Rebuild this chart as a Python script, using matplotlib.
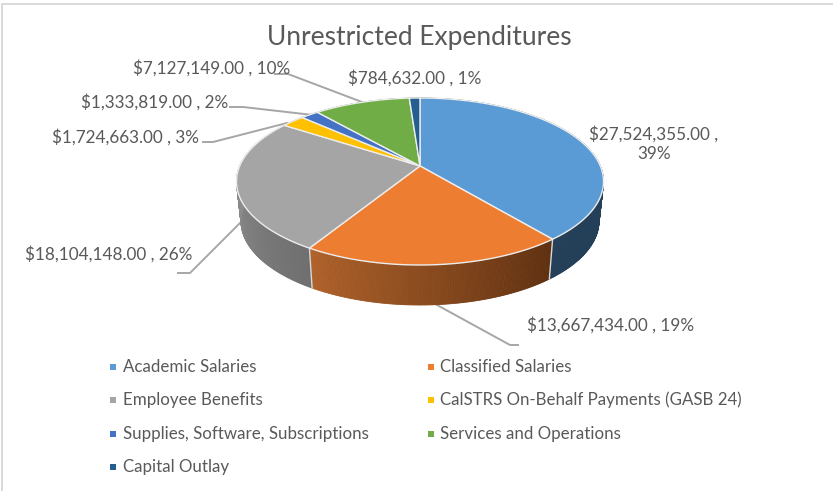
import numpy as np
import matplotlib
matplotlib.use('Agg')
from matplotlib import pyplot as plt

plt.rcParams['font.family'] = ['Lato', 'DejaVu Sans']

categories = ['Academic Salaries', 'Classified Salaries', 'Employee Benefits',
              'CalSTRS On-Behalf Payments (GASB 24)', 'Supplies, Software, Subscriptions',
              'Services and Operations', 'Capital Outlay']
values = [27524355, 13667434, 18104148, 1724663, 1333819, 7127149, 784632]
percents = [39, 19, 26, 3, 2, 10, 1]
colors = ['#5B9BD5', '#ED7D31', '#A5A5A5', '#FFC000', '#4472C4', '#70AD47', '#255E91']
# wall shade at the start and end of each slice (clockwise)
wall_start = ['#243F58', '#5E2F10', '#6E6E6E', '#7F6000', '#2A4478', '#43682B', '#163855']
wall_end = ['#243F58', '#B0622A', '#A2A2A2', '#7F6000', '#2A4478', '#43682B', '#163855']

text_color = '#595959'
line_color = '#A6A6A6'
persp = -0.186


def project(theta, cx, cy, rx, ry):
    # circle seen in perspective, so the centre of the pie sits above the ellipse centre
    u = np.sin(theta)
    v = -np.cos(theta)
    d = 1 + persp * v
    return cx + rx * u * np.sqrt(1 - persp * persp) / d, cy + ry * (v + persp) / d


def hex_mix(c1, c2, t):
    c1 = np.array(matplotlib.colors.to_rgb(c1))
    c2 = np.array(matplotlib.colors.to_rgb(c2))
    return tuple(c1 * (1 - t) + c2 * t)


top = (420, 181.5, 183.5, 83.5)
bottom = (420, 221, 179, 84)

fig = plt.figure(figsize=(8.33, 4.91), dpi=100)
ax = fig.add_axes([0, 0, 1, 1])
ax.set_xlim(0, 833)
ax.set_ylim(491, 0)
ax.axis('off')

# chart border
ax.plot([2, 2, 833], [491, 4, 4], color='#D9D9D9', lw=1.4, zorder=1)

# leader lines, behind the pie
leaders = [([437, 510, 518], [305, 345, 345]),
           ([240, 190, 178], [223, 273, 273]),
           ([203, 213, 287], [142, 142, 123]),
           ([230, 243, 313], [107, 107, 115]),
           ([275, 288, 362], [74, 74, 102])]
for lx, ly in leaders:
    ax.plot(lx, ly, color=line_color, lw=1.4, zorder=2)

edges = np.concatenate([[0], np.cumsum(values)]) / sum(values) * 2 * np.pi

# side walls
for i in range(len(values)):
    th = np.linspace(edges[i], edges[i + 1], int(np.degrees(edges[i + 1] - edges[i])) * 2 + 2)
    for j in range(len(th) - 1):
        x1, y1 = project(th[j:j + 2], *top)
        x2, y2 = project(th[j:j + 2], *bottom)
        c = hex_mix(wall_start[i], wall_end[i], j / (len(th) - 1))
        ax.fill(np.r_[x1, x2[::-1]], np.r_[y1, y2[::-1]], color=c, lw=0.6, zorder=3)
    # seam between slices on the wall
    x1, y1 = project(edges[i], *top)
    x2, y2 = project(edges[i], *bottom)
    if y1 > 200:
        ax.plot([x1, x2], [y1, y2], color='#D9D9D9', lw=1, zorder=4)

# top faces
apex = (top[0], top[1] + top[3] * persp)
for i in range(len(values)):
    th = np.linspace(edges[i], edges[i + 1], 200)
    x, y = project(th, *top)
    ax.fill(np.r_[apex[0], x], np.r_[apex[1], y], facecolor=colors[i],
            edgecolor='#EDEDED', lw=1, zorder=5)

ax.text(419.5, 37, 'Unrestricted Expenditures', ha='center', va='center',
        fontsize=19, color=text_color)

# data labels
label_pos = [(654, 144, 'center'), (527, 325, 'left'), (25, 254, 'left'), (52, 137, 'left'),
             (81, 102, 'left'), (133, 68, 'left'), (348, 78, 'left')]
for i, (lx, ly, ha) in enumerate(label_pos):
    s = '${:,.2f} , {}%'.format(values[i], percents[i])
    if i == 0:
        s = '${:,.2f} ,\n{}%'.format(values[i], percents[i])
    ax.text(lx, ly, s, ha=ha, va='center', fontsize=12.3, color=text_color,
            linespacing=1.25, zorder=6)

# legend
marker_x = [113, 431.5]
name_x = [123, 440]
legend_y = [367, 399.5, 434, 467]
for i, name in enumerate(categories):
    ly = legend_y[i // 2]
    ax.scatter([marker_x[i % 2]], [ly], marker='s', s=20, color=colors[i], linewidths=0, zorder=6)
    ax.text(name_x[i % 2], ly, name, ha='left', va='center', fontsize=12.2,
            color=text_color, zorder=6)

fig.savefig('out.png', dpi=100)
